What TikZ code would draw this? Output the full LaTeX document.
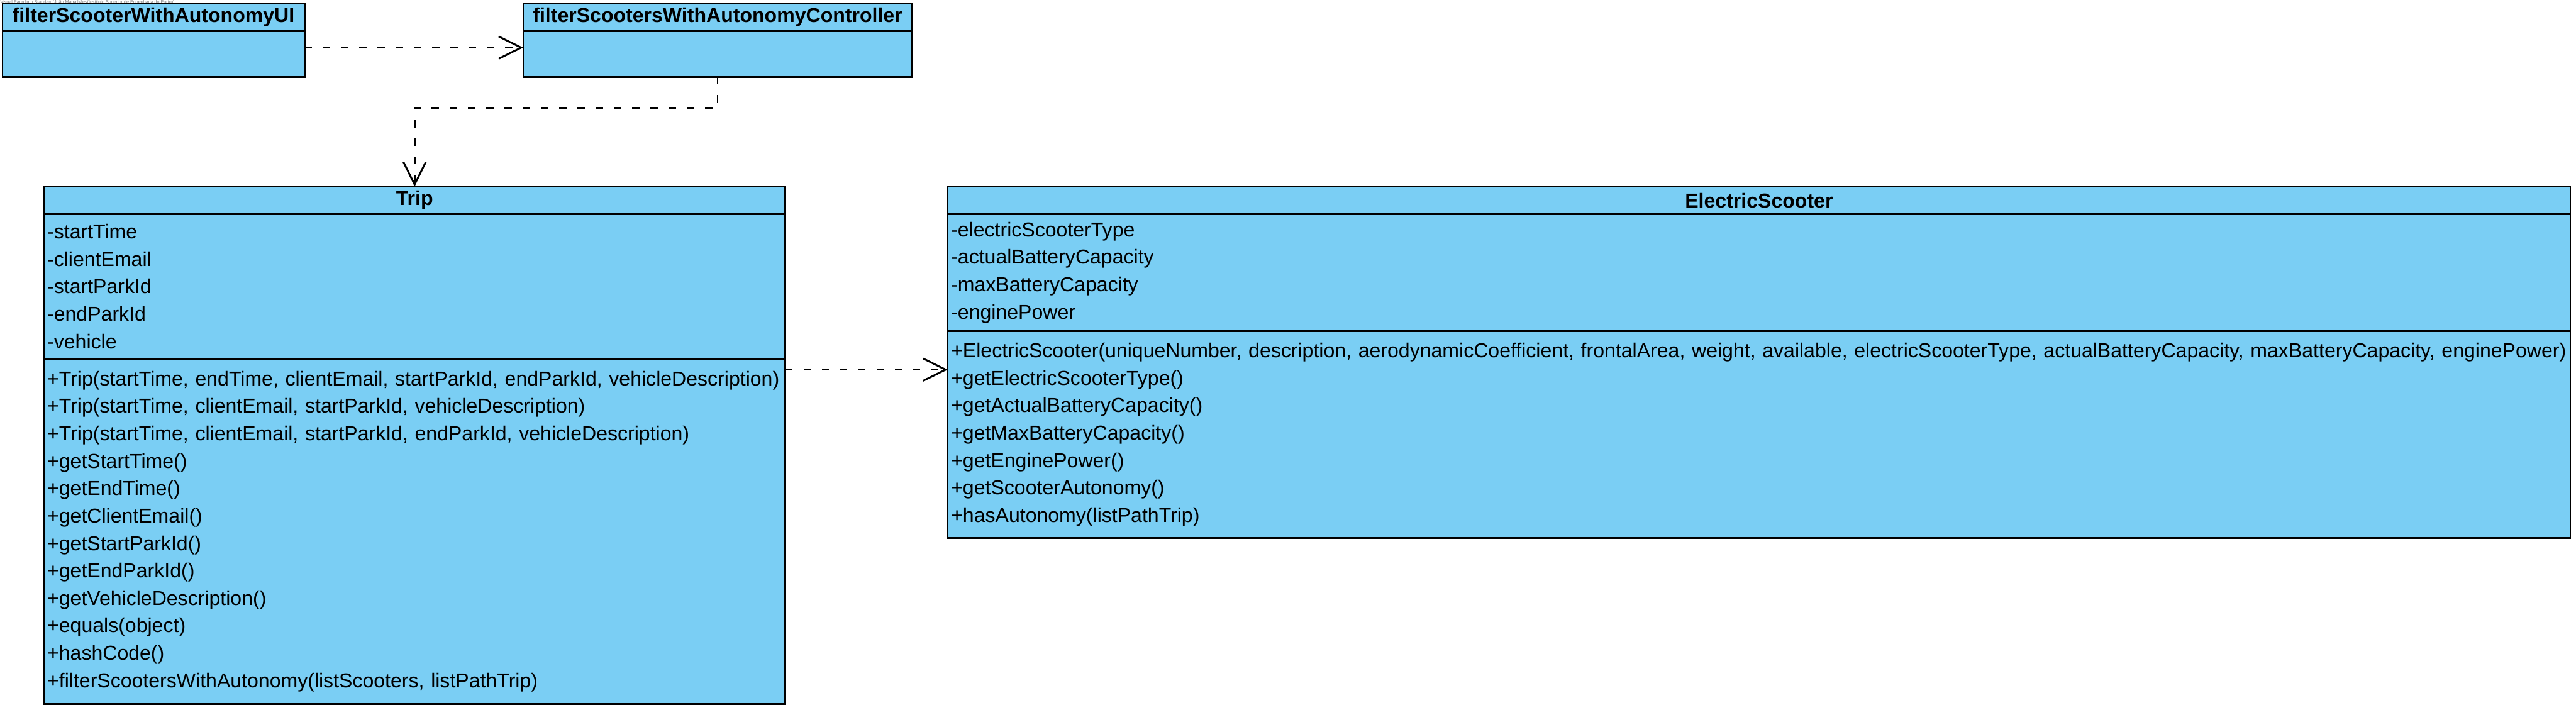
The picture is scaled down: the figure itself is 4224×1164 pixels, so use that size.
\documentclass[tikz,border=0pt]{standalone}
\usepackage{fontspec}
\setmainfont{Liberation Sans}
\usetikzlibrary{positioning,arrows.meta}
\definecolor{umlblue}{RGB}{122,206,244}
\begin{document}
\begin{tikzpicture}[x=0.01cm, y=-0.01cm, >={Straight Barb[length=10.5pt, width=10.4pt]},
    box/.style={draw, line width=0.8pt, fill=umlblue, outer sep=0pt},
    head/.style={box, inner sep=0pt, minimum height=0.45cm, font=\fontsize{9.4}{12.8}\selectfont\bfseries},
    body/.style={box, align=left, inner xsep=0.055cm, inner ysep=0pt, font=\fontsize{9.4}{12.8}\selectfont},
    dep/.style={->, line width=0.85pt, dash pattern=on 3.4pt off 5.1pt}]
\useasboundingbox (0,0) rectangle (4224,1164);
\node[anchor=north west, inner sep=0pt, text=gray, font=\fontsize{2.1}{2.5}\selectfont] (mark) at (0,0)
    {Visual Paradigm Standard(João Magalhães(Instituto Superior de Engenharia do Porto))};
% boundary and controller
\node[head, minimum width=4.95cm, anchor=north west] (ui-head) at (4,6) {filterScooterWithAutonomyUI};
\node[body, text width=4.84cm, minimum height=0.75cm, below=0pt of ui-head] (ui-body) {};
\node[head, minimum width=6.37cm, anchor=north west] (ctrl-head) at (858,6) {filterScootersWithAutonomyController};
\node[body, text width=6.26cm, minimum height=0.75cm, below=0pt of ctrl-head] (ctrl-body) {};
% Trip
\node[head, minimum width=12.15cm, anchor=north west] (trip-head) at (72,306) {Trip};
\node[body, text width=12.04cm, minimum height=2.37cm, below=0pt of trip-head] (trip-attr)
    {-startTime\\-clientEmail\\-startParkId\\-endParkId\\-vehicle};
\node[body, text width=12.04cm, minimum height=5.66cm, below=0pt of trip-attr] (trip-meth)
    {+Trip(startTime, endTime, clientEmail, startParkId, endParkId, vehicleDescription)\\
     +Trip(startTime, clientEmail, startParkId, vehicleDescription)\\
     +Trip(startTime, clientEmail, startParkId, endParkId, vehicleDescription)\\
     +getStartTime()\\+getEndTime()\\+getClientEmail()\\+getStartParkId()\\+getEndParkId()\\
     +getVehicleDescription()\\+equals(object)\\+hashCode()\\
     +filterScootersWithAutonomy(listScooters, listPathTrip)};
% ElectricScooter
\node[head, minimum width=26.59cm, anchor=north west] (es-head) at (1554,306) {ElectricScooter};
\node[body, text width=26.48cm, minimum height=1.92cm, below=0pt of es-head] (es-attr)
    {-electricScooterType\\-actualBatteryCapacity\\-maxBatteryCapacity\\-enginePower};
\node[body, text width=26.48cm, minimum height=3.39cm, below=0pt of es-attr] (es-meth)
    {+ElectricScooter(uniqueNumber, description, aerodynamicCoefficient, frontalArea, weight, available, electricScooterType, actualBatteryCapacity, maxBatteryCapacity, enginePower)\\
     +getElectricScooterType()\\+getActualBatteryCapacity()\\+getMaxBatteryCapacity()\\
     +getEnginePower()\\+getScooterAutonomy()\\+hasAutonomy(listPathTrip)};
% dependencies
\coordinate (uiout) at ([yshift=0.105cm]ui-body.east);
\draw[dep] (uiout) -- (uiout -| ctrl-body.west);
\draw[dep] (ctrl-body.south) -- ++(0,51) -| (trip-head.north);
\coordinate (tripout) at ([yshift=-0.18cm]trip-meth.north east);
\draw[dep] (tripout) -- (tripout -| es-meth.west);
\end{tikzpicture}
\end{document}
